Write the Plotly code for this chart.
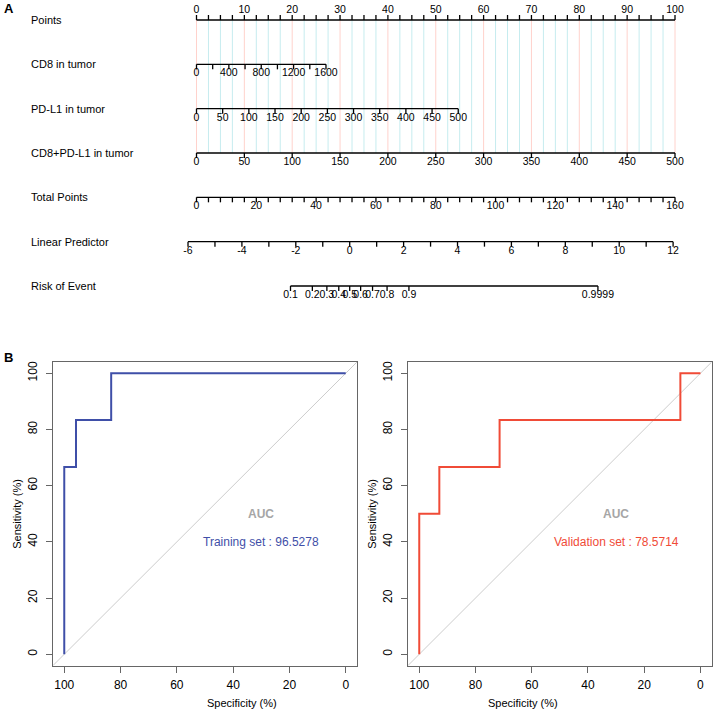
import math
import plotly.graph_objects as go

# ---------------------------------------------------------------------------
# Panel A: nomogram scales
# ---------------------------------------------------------------------------
row_names = ['Points', 'CD8 in tumor', 'PD-L1 in tumor', 'CD8+PD-L1 in tumor',
             'Total Points', 'Linear Predictor', 'Risk of Event']

points_labels = [0, 10, 20, 30, 40, 50, 60, 70, 80, 90, 100]
points_ticks = [i * 2.5 for i in range(41)]

cd8_ticks = [0, 200, 400, 600, 800, 1000, 1200, 1400, 1600]
cd8_labels = [0, 400, 800, 1200, 1600]
cd8_max, cd8_max_points = 1600, 27.06

pdl1_ticks = [0, 50, 100, 150, 200, 250, 300, 350, 400, 450, 500]
pdl1_max, pdl1_max_points = 500, 54.7

combo_ticks = [0, 50, 100, 150, 200, 250, 300, 350, 400, 450, 500]
combo_max, combo_max_points = 500, 100

total_ticks = [i * 4 for i in range(41)]
total_labels = [0, 20, 40, 60, 80, 100, 120, 140, 160]
total_max = 160

lp_ticks = [-6, -5, -4, -3, -2, -1, 0, 1, 2, 3, 4, 5, 6, 7, 8, 9, 10, 11, 12]
lp_labels = [-6, -4, -2, 0, 2, 4, 6, 8, 10, 12]
lp_at_total_0, lp_at_total_max = -5.685, 12.07

risk_labels = [0.1, 0.2, 0.3, 0.4, 0.5, 0.6, 0.7, 0.8, 0.9, 0.9999]

# ---------------------------------------------------------------------------
# Panel B: ROC curves (specificity %, sensitivity %)
# ---------------------------------------------------------------------------
train_spec = [100, 100, 95.83, 95.83, 83.33, 83.33, 0]
train_sens = [0, 66.67, 66.67, 83.33, 83.33, 100, 100]
valid_spec = [100, 100, 92.86, 92.86, 71.43, 71.43, 7.14, 7.14, 0]
valid_sens = [0, 50, 50, 66.67, 66.67, 83.33, 83.33, 100, 100]
train_auc = 96.5278
valid_auc = 78.5714

BLUE = '#3f4fa8'
RED = '#f04b37'
FONT = 'Arial, Liberation Sans, sans-serif'

W, H = 717, 713
# nomogram horizontal placement: 0 points at 196.5px, 100 points at 675px
px0, px_per_pt = 196.5, 4.785
row_px0, row_step = 20, 44.33
tick_len = 5 / row_step


def cd8_pos(v):
    return v / cd8_max * cd8_max_points


def pdl1_pos(v):
    return v / pdl1_max * pdl1_max_points


def combo_pos(v):
    return v / combo_max * combo_max_points


def total_pos(v):
    return v / total_max * 100


def lp_pos(v):
    return (v - lp_at_total_0) / (lp_at_total_max - lp_at_total_0) * 100


def risk_pos(p):
    return lp_pos(math.log(p / (1 - p)))


fig = go.Figure()

# reference grid lines behind the first four scales
grid_pink_x, grid_pink_y, grid_cyan_x, grid_cyan_y = [], [], [], []
for t in points_ticks:
    if t % 10 == 0:
        grid_pink_x += [t, t, None]
        grid_pink_y += [0, 3, None]
    else:
        grid_cyan_x += [t, t, None]
        grid_cyan_y += [0, 3, None]
fig.add_trace(go.Scatter(x=grid_cyan_x, y=grid_cyan_y, mode='lines',
                         line=dict(color='#c6ecef', width=1), hoverinfo='skip'))
fig.add_trace(go.Scatter(x=grid_pink_x, y=grid_pink_y, mode='lines',
                         line=dict(color='#ffd2cc', width=1), hoverinfo='skip'))

scales = [
    (0, points_ticks, points_labels, lambda v: v, -1),
    (1, cd8_ticks, cd8_labels, cd8_pos, 1),
    (2, pdl1_ticks, pdl1_ticks, pdl1_pos, 1),
    (3, combo_ticks, combo_ticks, combo_pos, 1),
    (4, total_ticks, total_labels, total_pos, 1),
    (5, lp_ticks, lp_labels, lp_pos, 1),
    (6, risk_labels, risk_labels, risk_pos, 1),
]

ax_x, ax_y, lab_x, lab_y, lab_t = [], [], [], [], []
for row, ticks, labels, fn, side in scales:
    xs = [fn(t) for t in ticks]
    ax_x += [min(xs), max(xs), None]
    ax_y += [row, row, None]
    for t in ticks:
        ax_x += [fn(t), fn(t), None]
        ax_y += [row, row + side * tick_len, None]
    for t in labels:
        lab_x.append(fn(t))
        lab_y.append(row + side * 9.5 / row_step)
        lab_t.append(f'{t:g}')

fig.add_trace(go.Scatter(x=ax_x, y=ax_y, mode='lines',
                         line=dict(color='black', width=1.3), hoverinfo='skip'))
fig.add_trace(go.Scatter(x=lab_x, y=lab_y, mode='text', text=lab_t,
                         textfont=dict(family=FONT, size=10.5, color='black'),
                         hoverinfo='skip'))

annotations = []
for i, name in enumerate(row_names):
    annotations.append(dict(text=name, x=29 / W, xref='paper', y=i, yref='y',
                            xanchor='left', yanchor='middle', showarrow=False,
                            font=dict(family=FONT, size=11, color='black')))

# ---------------------------------------------------------------------------
# ROC panels
# ---------------------------------------------------------------------------
for spec, sens, color, xa, ya in [(train_spec, train_sens, BLUE, 'x2', 'y2'),
                                  (valid_spec, valid_sens, RED, 'x3', 'y3')]:
    fig.add_trace(go.Scatter(x=[104, -4], y=[-4, 104], mode='lines', xaxis=xa, yaxis=ya,
                             line=dict(color='#cccccc', width=1), hoverinfo='skip'))
    fig.add_trace(go.Scatter(x=spec, y=sens, mode='lines', xaxis=xa, yaxis=ya,
                             line=dict(color=color, width=2)))

for label, auc, color, xa, ya in [('Training set', train_auc, BLUE, 'x2', 'y2'),
                                  ('Validation set', valid_auc, RED, 'x3', 'y3')]:
    annotations.append(dict(text='<b>AUC</b>', x=30, y=50, xref=xa, yref=ya, showarrow=False,
                            font=dict(family=FONT, size=12, color='#a6a6a6')))
    annotations.append(dict(text=f'{label} : {auc}', x=30, y=40, xref=xa, yref=ya,
                            showarrow=False, font=dict(family=FONT, size=12, color=color)))

roc_x_domains = [(53 / W, 357 / W), (408 / W, 711.7 / W)]
roc_y_domain = [1 - 665.5 / H, 1 - 362 / H]

for (d0, d1) in roc_x_domains:
    xc = (d0 + d1) / 2
    annotations.append(dict(text='Specificity (%)', x=xc, xref='paper', y=1 - 703 / H,
                            yref='paper', yanchor='middle', showarrow=False,
                            font=dict(family=FONT, size=11, color='black')))
    annotations.append(dict(text='Sensitivity (%)', x=d0 - 36 / W, xref='paper',
                            xanchor='center', y=sum(roc_y_domain) / 2, yref='paper',
                            yanchor='middle', textangle=-90, showarrow=False,
                            font=dict(family=FONT, size=11, color='black')))

annotations.append(dict(text='<b>A</b>', x=2 / W, y=1 - 8 / H, xref='paper', yref='paper',
                        xanchor='left', yanchor='middle', showarrow=False,
                        font=dict(family=FONT, size=13, color='black')))
annotations.append(dict(text='<b>B</b>', x=2 / W, y=1 - 357 / H, xref='paper', yref='paper',
                        xanchor='left', yanchor='middle', showarrow=False,
                        font=dict(family=FONT, size=13, color='black')))

roc_x = dict(range=[104, -4], tickvals=[100, 80, 60, 40, 20, 0], showline=True, mirror=True,
             linecolor='#666666', linewidth=1.3, ticks='outside', ticklen=6,
             tickcolor='#666666', showgrid=False, zeroline=False, ticklabelstandoff=2,
             tickfont=dict(family=FONT, size=12, color='black'))
roc_y = dict(range=[-4, 104], tickvals=[0, 20, 40, 60, 80, 100], showline=True, mirror=True,
             linecolor='#666666', linewidth=1.3, ticks='outside', ticklen=6,
             tickcolor='#666666', showgrid=False, zeroline=False, tickangle=-90,
             ticklabelstandoff=4,
             tickfont=dict(family=FONT, size=12, color='black'), domain=roc_y_domain)

pt_r0 = -px0 / px_per_pt
pt_r1 = pt_r0 + W / px_per_pt
row_r_top = (0 - row_px0) / row_step
row_r_bot = (300 - row_px0) / row_step

fig.update_layout(
    width=W, height=H,
    margin=dict(l=0, r=0, t=0, b=0),
    paper_bgcolor='white', plot_bgcolor='white',
    showlegend=False,
    xaxis=dict(domain=[0, 1], range=[pt_r0, pt_r1], visible=False),
    yaxis=dict(domain=[1 - 300 / H, 1], range=[row_r_bot, row_r_top], visible=False),
    xaxis2=dict(roc_x, domain=list(roc_x_domains[0]), anchor='y2'),
    yaxis2=dict(roc_y, anchor='x2'),
    xaxis3=dict(roc_x, domain=list(roc_x_domains[1]), anchor='y3'),
    yaxis3=dict(roc_y, anchor='x3'),
    annotations=annotations,
)

# the page body has a default margin; remove it so the figure fills the window
fig.write_html('out.html', config={'displayModeBar': False},
               post_script="document.body.style.margin='0';")
